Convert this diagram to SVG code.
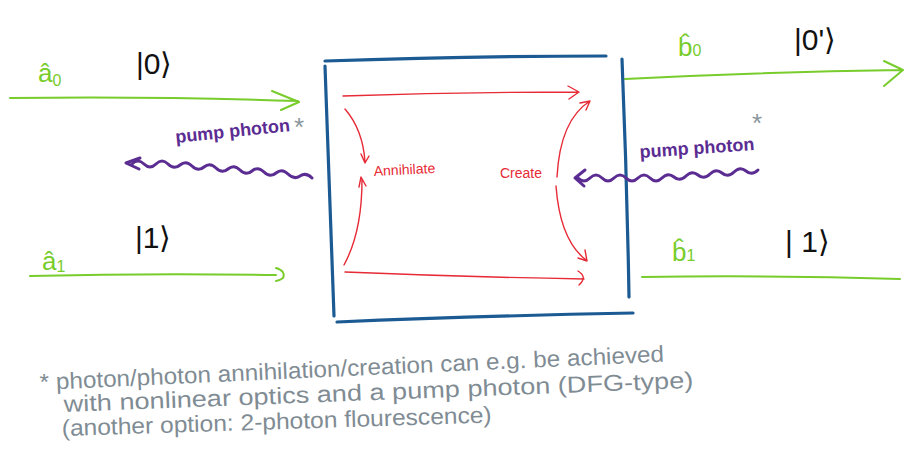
<svg xmlns="http://www.w3.org/2000/svg" width="904" height="470" viewBox="0 0 904 470">
  <style>
    .g { stroke: #78cc2c; stroke-width: 2; fill: none; stroke-linecap: round; stroke-linejoin: round; }
    .r { stroke: #e62a36; stroke-width: 1.4; fill: none; stroke-linecap: round; stroke-linejoin: round; }
    .b { stroke: #1b5a92; stroke-width: 3.2; fill: none; stroke-linecap: round; }
    .p { stroke: #5b2c92; stroke-width: 3; fill: none; stroke-linecap: round; stroke-linejoin: round; }
    .lbl-g { fill: #78cc2c; font-family: "Liberation Sans", sans-serif; font-size: 26px; }
    .ket { fill: #111; font-family: "Liberation Sans", sans-serif; font-size: 30px; }
    .pump { fill: #5b2c92; font-family: "Liberation Sans", sans-serif; font-size: 18px; font-weight: bold; }
    .star { fill: #8a969d; font-family: "Liberation Sans", sans-serif; font-size: 26px; }
    .red { fill: #e62a36; font-family: "Liberation Sans", sans-serif; font-size: 14px; }
    .note { fill: #7f8c94; font-family: "Liberation Sans", sans-serif; font-size: 23px; }
  </style>

  <!-- mode lines and their labels -->
  <g id="mode-a0">
    <path class="g" d="M10,98 Q150,96 298,101 M272,91 L299,102 L281,110"/>
    <text class="lbl-g" x="38" y="82">â<tspan font-size="16" dy="4">0</tspan></text>
    <text class="ket" x="136" y="74">|0⟩</text>
  </g>
  <g id="mode-a1">
    <path class="g" d="M30,276 Q150,273 276,275 M276,268 Q286,271 283,278 Q279,281 276,281"/>
    <text class="lbl-g" x="42" y="270">â<tspan font-size="16" dy="2">1</tspan></text>
    <text class="ket" x="135" y="248">|1⟩</text>
  </g>
  <g id="mode-b0">
    <path class="g" d="M625,79 Q760,72 901,70 M884,61 L903,70 L884,86"/>
    <text class="lbl-g" x="678" y="56">b̂<tspan font-size="16" dy="0">0</tspan></text>
    <text class="ket" x="794" y="50">|0'⟩</text>
  </g>
  <g id="mode-b1">
    <path class="g" d="M642,277 Q770,275 900,279"/>
    <text class="lbl-g" x="672" y="261">b̂<tspan font-size="16" dy="0">1</tspan></text>
    <text class="ket" x="785" y="252">| 1⟩</text>
  </g>

  <!-- nonlinear element -->
  <g id="box">
    <path class="b" d="M325,61 Q470,56 606,56"/>
    <path class="b" d="M325,66 Q329,190 334,316"/>
    <path class="b" d="M337,322 Q480,316 633,313"/>
    <path class="b" d="M622,59 Q627,180 629,297"/>
  </g>

  <!-- pump photons -->
  <g id="pump-left">
    <path class="p" d="M140,158 L126,163 L139,169"/>
    <path class="p" d="M132,164 q6,-6 12,0 t12,0 t12,0 t12,1 t12,1 t12,1 t12,1 t12,1 t12,1 t12,1 t12,1 t12,1 t12,1 t12,2 t12,2"/>
    <text class="pump" x="176" y="143" transform="rotate(-6 176 143)">pump photon</text>
    <text class="star" x="294" y="136">*</text>
  </g>
  <g id="pump-right">
    <path class="p" d="M585,170 L575,178 L584,186"/>
    <path class="p" d="M578,178 q6,6 12,0 t12,0 t12,0 t12,0 t12,0 t12,0 t12,0 t12,-1 t12,-1 t12,-1 t12,-1 t12,-1 t12,-1 t12,-1 t12,-1"/>
    <text class="pump" x="640" y="158" transform="rotate(-4 640 158)">pump photon</text>
    <text class="star" x="752" y="132">*</text>
  </g>

  <!-- processes inside the element -->
  <g id="processes">
    <path class="r" d="M343,96 Q460,92 578,92 M568,86 L579,92 L569,99"/>
    <path class="r" d="M345,272 Q465,277 584,279 M578,271 Q588,277 579,285"/>
    <path class="r" d="M345,109 Q363,130 365,162 M361,154 L365,163 L369,156"/>
    <path class="r" d="M344,265 Q362,232 362,180 M359,187 L361,177 L366,186"/>
    <path class="r" d="M557,177 Q560,120 590,101 M580,103 L590,101 L586,110"/>
    <path class="r" d="M556,186 Q560,240 586,260 M585,250 L587,261 L578,258"/>
    <text class="red" x="374" y="176" transform="rotate(-3 374 176)">Annihilate</text>
    <text class="red" x="500" y="178">Create</text>
  </g>

  <!-- footnote -->
  <g id="footnote">
    <text class="note" x="40" y="390" textLength="625" lengthAdjust="spacingAndGlyphs" transform="rotate(-2.6 40 390)">* photon/photon annihilation/creation can e.g. be achieved</text>
    <text class="note" x="64" y="412" textLength="630" lengthAdjust="spacingAndGlyphs" transform="rotate(-2.2 64 412)">with nonlinear optics and a pump photon (DFG-type)</text>
    <text class="note" x="62" y="436" textLength="430" lengthAdjust="spacingAndGlyphs" transform="rotate(-1.8 62 436)">(another option: 2-photon flourescence)</text>
  </g>
</svg>
